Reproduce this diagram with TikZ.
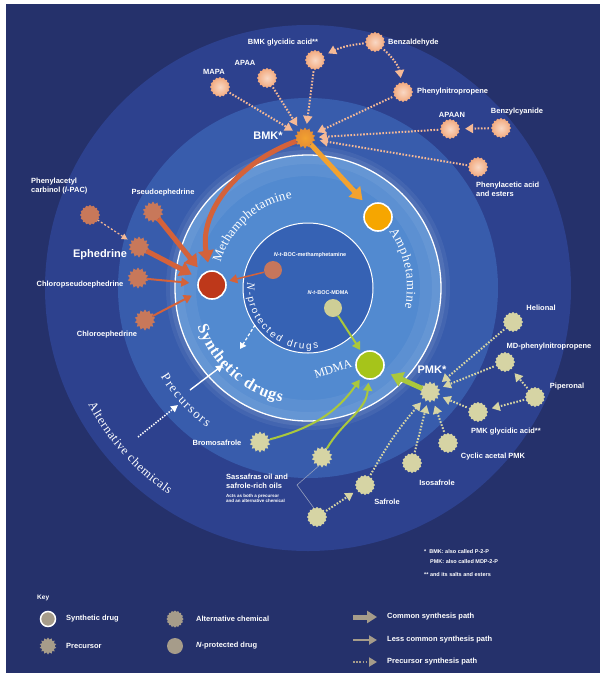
\documentclass[tikz,border=0pt]{standalone}
\usepackage{fontspec}
\setmainfont{Liberation Sans}
\newfontfamily\drugserif{Liberation Serif}
\usepackage{xcolor}
\usetikzlibrary{arrows.meta}
\usetikzlibrary{shapes.geometric}
\usetikzlibrary{decorations.text}
\definecolor{bgnavy}{RGB}{37,49,107}
\definecolor{altring}{RGB}{45,65,142}
\definecolor{precring}{RGB}{56,92,172}
\definecolor{synring}{RGB}{82,138,208}
\definecolor{innerdisk}{RGB}{54,98,180}
\definecolor{bmkpeach}{RGB}{242,168,124}
\definecolor{bmkorange}{RGB}{228,140,52}
\definecolor{methsalmon}{RGB}{200,120,90}
\definecolor{pmkpale}{RGB}{214,212,164}
\definecolor{methred}{RGB}{190,56,26}
\definecolor{amphorange}{RGB}{246,166,0}
\definecolor{mdmagreen}{RGB}{166,196,26}
\definecolor{methline}{RGB}{212,98,58}
\definecolor{amphline}{RGB}{242,162,48}
\definecolor{greenline}{RGB}{170,200,60}
\definecolor{bocmeth}{RGB}{198,118,92}
\definecolor{bocmdma}{RGB}{206,206,150}
\definecolor{keygray}{RGB}{166,156,138}
\definecolor{bracketgray}{RGB}{150,160,190}

\begin{document}
\begin{tikzpicture}[x=1pt, y=1pt,
	lbl/.style={text=white, font=\bfseries\fontsize{7.5}{8.5}\selectfont, inner sep=0pt, align=left},
	biglbl/.style={lbl, font=\bfseries\fontsize{11}{12}\selectfont},
	tinylbl/.style={lbl, font=\bfseries\fontsize{5.5}{6}\selectfont},
	foot/.style={lbl, font=\bfseries\fontsize{5.5}{10}\selectfont},
	drug/.style={circle, draw=white, line width=1.6pt, minimum size=28pt, inner sep=0pt},
	nprot/.style={circle, minimum size=18pt, inner sep=0pt},
	precursor/.style={star, star points=14, star point ratio=1.3, minimum size=21pt, inner sep=0pt},
	altchem/.style={star, star points=16, star point ratio=1.15, minimum size=20pt, inner sep=0pt},
	bmkfill/.style={shading=radial, inner color=bmkpeach!45!white, outer color=bmkpeach},
	methfill/.style={fill=methsalmon},
	pmkfill/.style={fill=pmkpale},
	commonpath/.style={line width=5pt, -{Triangle[length=12pt, width=15pt]}, shorten >=8pt},
	lesspath/.style={line width=2pt, -{Triangle[length=8pt, width=9pt]}, shorten >=3pt},
	precpath/.style={line width=2pt, dash pattern=on 1.6pt off 1.6pt, -{Triangle[length=8pt, width=9pt]}, shorten >=5pt, shorten <=2pt},
	bmkdots/.style={color=bmkpeach!80!white},
	pmkdots/.style={color=pmkpale},
]
	\useasboundingbox (0,0) rectangle (600,-673);
	%draw background and rings
	\fill[white] (0,0) rectangle (600,-673);
	\fill[bgnavy] (6,-4) rectangle (600,-673);
	\coordinate (c) at (308,-288);
	\fill[altring] (c) circle[radius=263];
	\fill[precring] (c) circle[radius=190];
	\fill[white, opacity=0.06] (c) circle[radius=142];
	\fill[white, opacity=0.08] (c) circle[radius=138];
	\fill[synring] (c) circle[radius=133];
	\fill[white, opacity=0.06, even odd rule] (c) circle[radius=133] (c) circle[radius=112];
	\fill[white, opacity=0.06, even odd rule] (c) circle[radius=133] (c) circle[radius=124];
	\draw[white, line width=1.3pt] (c) circle[radius=133];
	\fill[innerdisk] (c) circle[radius=65];
	\draw[white, line width=1pt] (c) circle[radius=65];

	%ring names
	\path[decorate, decoration={text along path, text align={fit to path}, text color=white,
		text={|\drugserif\fontsize{13}{13}\selectfont|Methamphetamine}}]
		([shift={(164:91)}]c) arc[start angle=164, end angle=100, radius=91];
	\path[decorate, decoration={text along path, text align={fit to path}, text color=white,
		text={|\drugserif\fontsize{13}{13}\selectfont|Amphetamine}}]
		([shift={(35:99)}]c) arc[start angle=35, end angle=-12, radius=99];
	\path[decorate, decoration={text along path, text align={fit to path}, text color=white,
		text={|\drugserif\bfseries\fontsize{16}{16}\selectfont|Synthetic drugs}}]
		([shift={(199:117)}]c) arc[start angle=199, end angle=257, radius=117];
	\path[decorate, decoration={text along path, text align={fit to path}, text color=white,
		text={|\drugserif\fontsize{11.5}{11.5}\selectfont\itshape|N|\upshape|-protected drugs}}]
		([shift={(175:61)}]c) arc[start angle=175, end angle=280, radius=61];
	\path[decorate, decoration={text along path, text align={fit to path}, text color=white,
		text={|\drugserif\fontsize{13}{13}\selectfont|Precursors}}]
		([shift={(211:172)}]c) arc[start angle=211, end angle=234, radius=172];
	\path[decorate, decoration={text along path, text align={fit to path}, text color=white,
		text={|\drugserif\fontsize{12.5}{12.5}\selectfont|Alternative chemicals}}]
		([shift={(208:249)}]c) arc[start angle=208, end angle=236, radius=249];

	%ring arrows
	\coordinate (np1) at (255,-325);
	\coordinate (np2) at (240,-349);
	\coordinate (pr1) at (190,-390);
	\coordinate (pr2) at (223,-365);
	\coordinate (al1) at (138,-437);
	\coordinate (al2) at (178,-405);
	\draw[white, line width=1.2pt, dash pattern=on 3pt off 2pt, -{Triangle[length=6pt, width=7pt]}] (np1) -- (np2);
	\draw[white, line width=1.4pt, -{Triangle[length=7pt, width=7pt]}] (pr1) -- (pr2);
	\draw[white, line width=1.6pt, dash pattern=on 1.4pt off 1.4pt, -{Triangle[length=7pt, width=7pt]}] (al1) -- (al2);

	%drugs
	\node[drug, fill=methred] (meth) at (212,-285) {};
	\node[drug, fill=amphorange] (amph) at (378,-217) {};
	\node[drug, fill=mdmagreen] (mdma) at (370,-365) {};
	\node[nprot, fill=bocmeth] (bocmeth) at (273,-270) {};
	\node[nprot, fill=bocmdma] (bocmdma) at (333,-308) {};

	%bmk family
	\node[precursor, shading=radial, inner color=amphline, outer color=bmkorange] (bmk) at (305,-138) {};
	\node[altchem, bmkfill] (mapa) at (220,-87) {};
	\node[altchem, bmkfill] (apaa) at (267,-78) {};
	\node[altchem, bmkfill] (bmkgly) at (315,-60) {};
	\node[altchem, bmkfill] (benzald) at (375,-42) {};
	\node[altchem, bmkfill] (phnitro) at (403,-92) {};
	\node[altchem, bmkfill] (apaan) at (450,-129) {};
	\node[altchem, bmkfill] (benzcy) at (501,-128) {};
	\node[altchem, bmkfill] (phacet) at (478,-167) {};

	%methamphetamine family
	\node[altchem, methfill] (lpac) at (90,-215) {};
	\node[precursor, methfill] (pseudo) at (153,-212) {};
	\node[precursor, methfill] (ephed) at (139,-247) {};
	\node[precursor, methfill] (chlpseudo) at (138,-278) {};
	\node[precursor, methfill] (chleph) at (145,-320) {};

	%pmk family
	\node[precursor, pmkfill] (pmk) at (430,-392) {};
	\node[altchem, pmkfill] (helional) at (513,-322) {};
	\node[altchem, pmkfill] (mdphen) at (505,-362) {};
	\node[altchem, pmkfill] (piper) at (535,-397) {};
	\node[altchem, pmkfill] (pmkgly) at (478,-412) {};
	\node[altchem, pmkfill] (cycac) at (448,-443) {};
	\node[altchem, pmkfill] (isosaf) at (412,-463) {};
	\node[altchem, pmkfill] (safrole) at (365,-485) {};
	\node[precursor, pmkfill] (bromo) at (260,-442) {};
	\node[precursor, pmkfill] (sassup) at (322,-457) {};
	\node[altchem, pmkfill] (sasslow) at (317,-517) {};

	%precursor paths
	\draw[precpath, bmkdots] (mapa) -- (bmk);
	\draw[precpath, bmkdots] (apaa) -- (bmk);
	\draw[precpath, bmkdots] (bmkgly) -- (bmk);
	\draw[precpath, bmkdots] (phnitro) -- (bmk);
	\draw[precpath, bmkdots] (apaan) -- (bmk);
	\draw[precpath, bmkdots] (phacet) -- (bmk);
	\draw[precpath, bmkdots] (benzcy) -- (apaan);
	\draw[precpath, bmkdots] (benzald) to[bend right=10] (bmkgly);
	\draw[precpath, bmkdots] (benzald) to[bend left=20] (phnitro);
	\draw[bmkdots, line width=1.2pt, dash pattern=on 2pt off 2pt, -{Triangle[length=6pt, width=6pt]}, shorten >=4pt] (lpac) -- (ephed);
	\draw[precpath, pmkdots] (helional) -- (pmk);
	\draw[precpath, pmkdots] (mdphen) -- (pmk);
	\draw[precpath, pmkdots] (piper) -- (mdphen);
	\draw[precpath, pmkdots] (piper) -- (pmkgly);
	\draw[precpath, pmkdots] (pmkgly) -- (pmk);
	\draw[precpath, pmkdots] (cycac) -- (pmk);
	\draw[precpath, pmkdots] (isosaf) -- (pmk);
	\draw[precpath, pmkdots] (safrole) to[bend left=6] (pmk);
	\draw[precpath, pmkdots] (sasslow) -- (safrole);

	%synthesis paths
	\draw[commonpath, methline] (bmk) to[out=200, in=100] (meth);
	\draw[commonpath, amphline] (bmk) -- (amph);
	\draw[commonpath, methline] (pseudo) -- (meth);
	\draw[commonpath, methline] (ephed) -- (meth);
	\draw[lesspath, methline, shorten >=8pt] (chlpseudo) -- (meth);
	\draw[lesspath, methline, shorten >=8pt] (chleph) -- (meth);
	\draw[lesspath, methline, line width=1.5pt] (bocmeth) -- (meth);
	\draw[lesspath, greenline] (bocmdma) -- (mdma);
	\draw[commonpath, greenline] (pmk) -- (mdma);
	\draw[lesspath, greenline] (bromo) to[out=15, in=235] (mdma);
	\draw[lesspath, greenline] (sassup) to[out=60, in=265] (mdma);
	\coordinate (brk) at (297,-485);
	\draw[bracketgray, line width=0.6pt] (sassup.250) -- (brk) -- (sasslow.110);

	%labels
	\node[biglbl] (bmk-l) at (268,-136) {BMK*};
	\node[lbl] (mapa-l) at (214,-72) {MAPA};
	\node[lbl] (apaa-l) at (245,-63) {APAA};
	\node[lbl] (bmkgly-l) at (283,-43) {BMK glycidic acid**};
	\node[lbl, anchor=west] (benzald-l) at (388,-43) {Benzaldehyde};
	\node[lbl, anchor=west] (phnitro-l) at (417,-92) {Phenylnitropropene};
	\node[lbl] (apaan-l) at (452,-115) {APAAN};
	\node[lbl] (benzcy-l) at (517,-112) {Benzylcyanide};
	\node[lbl, anchor=north west] (phacet-l) at (476,-182) {Phenylacetic acid\\and esters};
	\node[lbl, anchor=north west] (lpac-l) at (31,-178) {Phenylacetyl\\carbinol (\textit{l}-PAC)};
	\node[lbl] (pseudo-l) at (163,-193) {Pseudoephedrine};
	\node[lbl, font=\bfseries\fontsize{11}{12}\selectfont] (ephed-l) at (100,-255) {Ephedrine};
	\node[lbl] (chlpseudo-l) at (80,-285) {Chloropseudoephedrine};
	\node[lbl] (chleph-l) at (107,-335) {Chloroephedrine};
	\node[tinylbl] (bocmeth-l) at (310,-255) {\textit{N}-\textit{t}-BOC-methamphetamine};
	\node[tinylbl] (bocmdma-l) at (328,-293) {\textit{N}-\textit{t}-BOC-MDMA};
	\node[text=white, font=\drugserif\fontsize{12}{12}\selectfont, inner sep=0pt, rotate=18] (mdma-l) at (333,-369) {MDMA};
	\node[biglbl] (pmk-l) at (432,-370) {PMK*};
	\node[lbl] (helional-l) at (541,-308) {Helional};
	\node[lbl] (mdphen-l) at (549,-347) {MD-phenylnitropropene};
	\node[lbl] (piper-l) at (567,-387) {Piperonal};
	\node[lbl] (pmkgly-l) at (506,-432) {PMK glycidic acid**};
	\node[lbl] (cycac-l) at (493,-457) {Cyclic acetal PMK};
	\node[lbl] (isosaf-l) at (437,-483) {Isosafrole};
	\node[lbl] (safrole-l) at (387,-502) {Safrole};
	\node[lbl] (bromo-l) at (217,-443) {Bromosafrole};
	\node[lbl, anchor=north west] (sass-l) at (226,-474) {Sassafras oil and\\safrole-rich oils};
	\node[lbl, anchor=north west, font=\bfseries\fontsize{4.5}{5}\selectfont] (sass-n) at (226,-494) {Acts as both a precursor\\and an alternative chemical};

	%footnotes
	\node[foot, anchor=north west] (fn1) at (424,-549) {*\hspace{3pt}BMK: also called P-2-P\\\hspace{6pt}PMK: also called MDP-2-P};
	\node[foot, anchor=north west] (fn2) at (424,-572) {** and its salts and esters};

	%key
	\node[lbl, anchor=west, font=\bfseries\fontsize{6.5}{7}\selectfont] (key) at (37,-598) {Key};
	\node[drug, fill=keygray, minimum size=15pt, line width=1.5pt] (k-drug) at (48,-619) {};
	\node[precursor, fill=keygray, minimum size=17pt] (k-prec) at (48,-646) {};
	\node[altchem, fill=keygray, minimum size=17pt] (k-alt) at (175,-619) {};
	\node[nprot, fill=keygray, minimum size=16pt] (k-nprot) at (175,-646) {};
	\node[lbl, anchor=west] (k-drug-l) at (66,-619) {Synthetic drug};
	\node[lbl, anchor=west] (k-prec-l) at (66,-646) {Precursor};
	\node[lbl, anchor=west] (k-alt-l) at (196,-619) {Alternative chemical};
	\node[lbl, anchor=west] (k-nprot-l) at (196,-646) {\textit{N}-protected drug};
	\coordinate (k1a) at (353,-617);
	\coordinate (k1b) at (377,-617);
	\coordinate (k2a) at (353,-640);
	\coordinate (k2b) at (377,-640);
	\coordinate (k3a) at (353,-662);
	\coordinate (k3b) at (377,-662);
	\draw[commonpath, keygray, shorten >=0pt, -{Triangle[length=10pt, width=12pt]}] (k1a) -- (k1b);
	\draw[lesspath, keygray, shorten >=0pt] (k2a) -- (k2b);
	\draw[precpath, keygray, shorten >=0pt, shorten <=0pt] (k3a) -- (k3b);
	\node[lbl, anchor=west] (k1-l) at (387,-617) {Common synthesis path};
	\node[lbl, anchor=west] (k2-l) at (387,-640) {Less common synthesis path};
	\node[lbl, anchor=west] (k3-l) at (387,-662) {Precursor synthesis path};
\end{tikzpicture}
\end{document}
